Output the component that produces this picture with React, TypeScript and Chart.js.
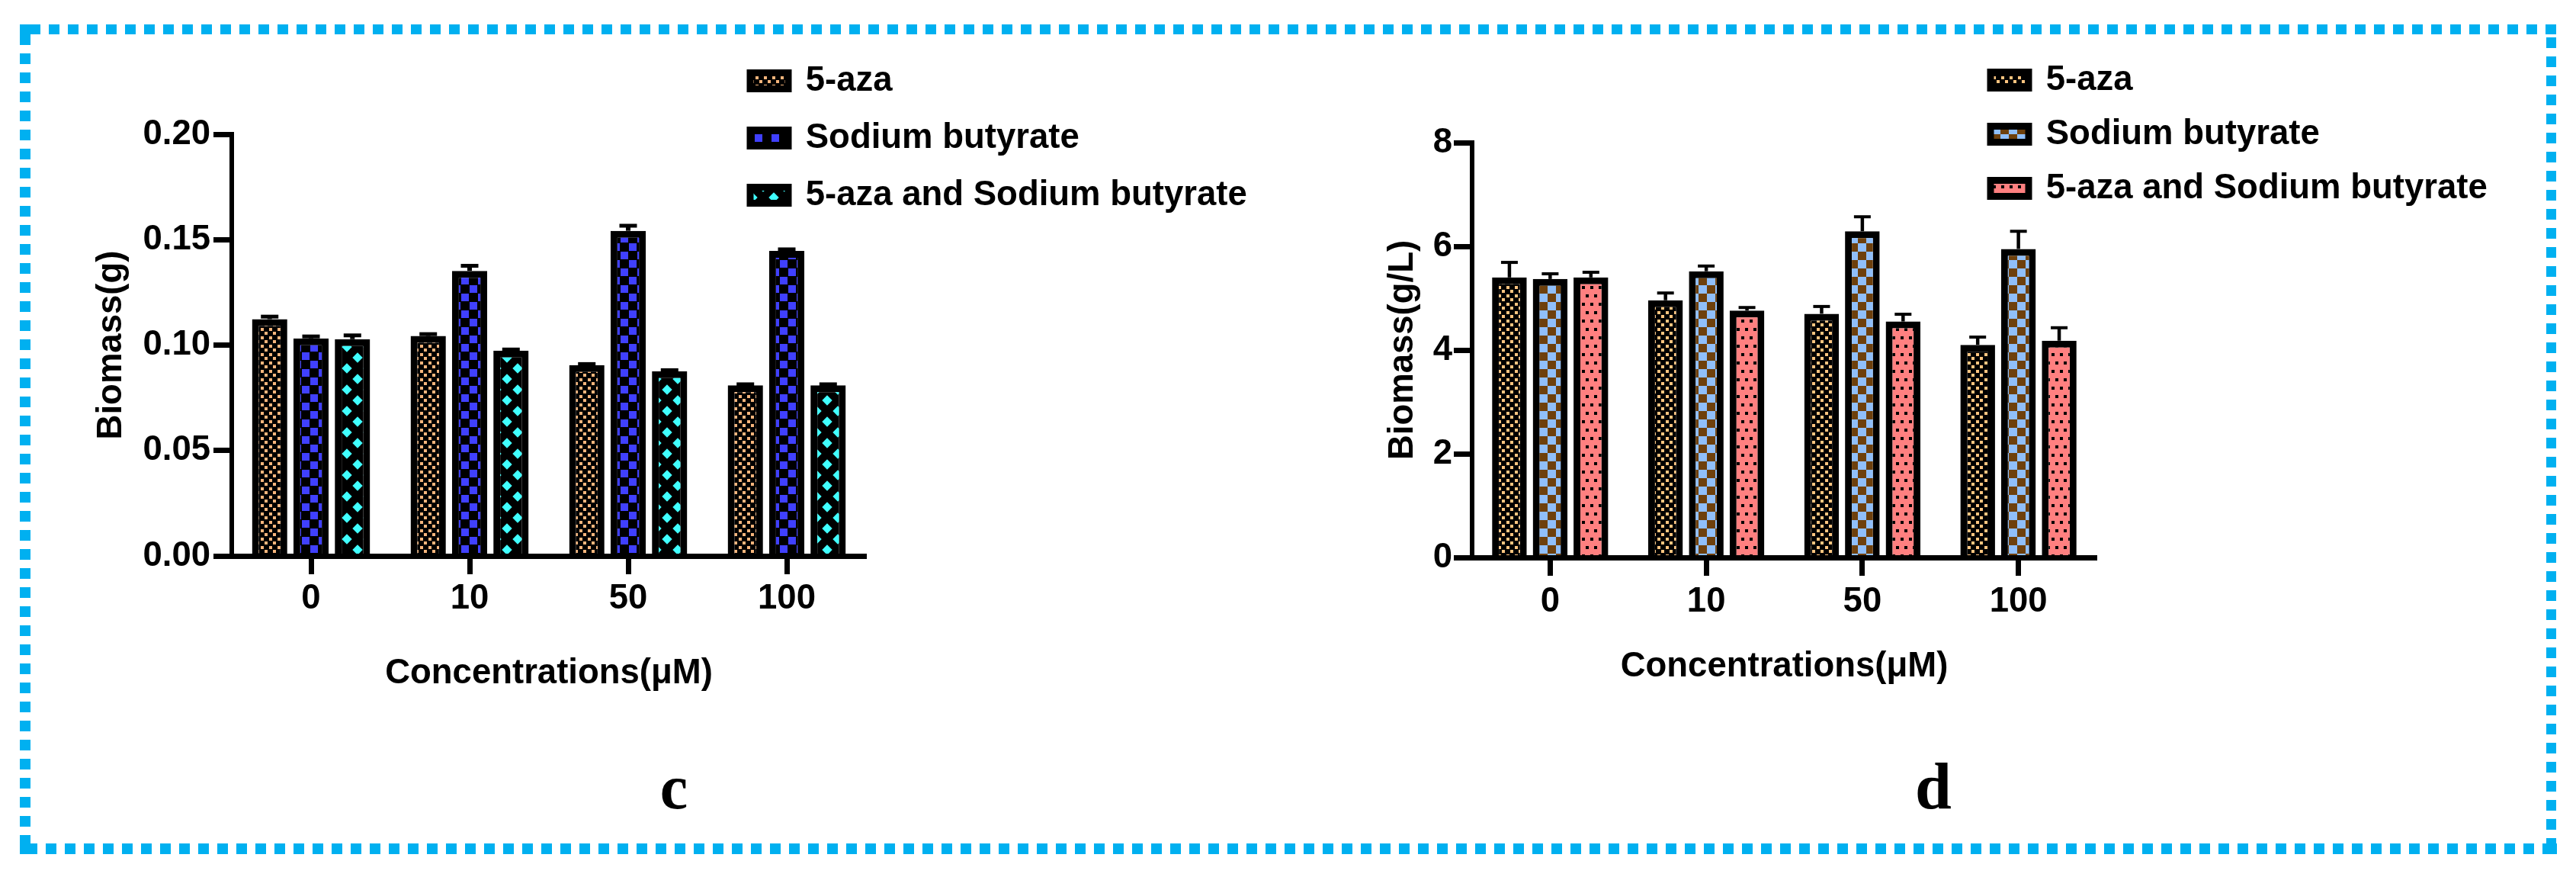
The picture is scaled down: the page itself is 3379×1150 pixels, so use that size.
import React, { useEffect, useRef } from 'react';
import { Chart, registerables } from 'chart.js';

Chart.register(...registerables);

// ---------- data ----------
const categories = ['0', '10', '50', '100'];
const seriesLabels = ['5-aza', 'Sodium butyrate', '5-aza and Sodium butyrate'];

// Panel c : Biomass (g)
const azaC = [0.1123, 0.1043, 0.0905, 0.0809];
const butyrateC = [0.1032, 0.1352, 0.1542, 0.1447];
const comboC = [0.1028, 0.0974, 0.0876, 0.0809];
const azaCErr = [0.0012, 0.0009, 0.0005, 0.0005];
const butyrateCErr = [0.0009, 0.0024, 0.0024, 0.0007];
const comboCErr = [0.0018, 0.0005, 0.0005, 0.0005];
const yTicksC = [0, 0.05, 0.1, 0.15, 0.2];

// Panel d : Biomass (g/L)
const azaD = [5.4, 4.96, 4.7, 4.1];
const butyrateD = [5.37, 5.52, 6.29, 5.95];
const comboD = [5.4, 4.76, 4.55, 4.18];
const azaDErr = [0.29, 0.14, 0.14, 0.15];
const butyrateDErr = [0.1, 0.1, 0.28, 0.34];
const comboDErr = [0.1, 0.06, 0.14, 0.25];
const yTicksD = [0, 2, 4, 6, 8];

const xTitle = 'Concentrations(μM)';
const yTitleC = 'Biomass(g)';
const yTitleD = 'Biomass(g/L)';

// ---------- styling ----------
const FONT = "'Liberation Sans', Arial, Helvetica, sans-serif";
const font = { family: FONT, size: 45.5, weight: 'bold' as const };

function tile(w: number, h: number, paint: (g: CanvasRenderingContext2D) => void) {
  const c = document.createElement('canvas');
  c.width = w;
  c.height = h;
  const g = c.getContext('2d')!;
  paint(g);
  return c;
}

function dotPattern(ctx: CanvasRenderingContext2D, fg: string) {
  return ctx.createPattern(
    tile(11, 11, (g) => {
      g.fillStyle = '#000';
      g.fillRect(0, 0, 11, 11);
      g.fillStyle = fg;
      g.fillRect(1, 1, 4, 4);
      g.fillRect(6, 6, 4, 4);
    }),
    'repeat'
  )!;
}

function checkPattern(ctx: CanvasRenderingContext2D, fg: string, bg: string, s: number) {
  return ctx.createPattern(
    tile(22, 22, (g) => {
      g.fillStyle = bg;
      g.fillRect(0, 0, 22, 22);
      g.fillStyle = fg;
      g.fillRect(0, 0, s, s);
      g.fillRect(11, 11, s, s);
    }),
    'repeat'
  )!;
}

function diamondPattern(ctx: CanvasRenderingContext2D, fg: string) {
  return ctx.createPattern(
    tile(28, 28, (g) => {
      g.fillStyle = '#000';
      g.fillRect(0, 0, 28, 28);
      g.fillStyle = fg;
      const r = 6.7;
      for (const [cx, cy] of [[7, 7], [21, 21]]) {
        g.beginPath();
        g.moveTo(cx, cy - r);
        g.lineTo(cx + r, cy);
        g.lineTo(cx, cy + r);
        g.lineTo(cx - r, cy);
        g.closePath();
        g.fill();
      }
    }),
    'repeat'
  )!;
}

function spotPattern(ctx: CanvasRenderingContext2D, bg: string) {
  return ctx.createPattern(
    tile(11, 22, (g) => {
      g.fillStyle = bg;
      g.fillRect(0, 0, 11, 22);
      g.fillStyle = '#000';
      g.fillRect(1, 1, 4, 4);
      g.fillRect(6, 12, 4, 4);
    }),
    'repeat'
  )!;
}

// error bars drawn from each dataset's errors through the y scale
const errorBarsPlugin = {
  id: 'errorBars',
  afterDatasetsDraw(chart: any, _args: any, opts: any) {
    const { ctx } = chart;
    const y = chart.scales.y;
    chart.data.datasets.forEach((ds: any, i: number) => {
      const meta = chart.getDatasetMeta(i);
      if (!ds.errors) return;
      meta.data.forEach((bar: any, j: number) => {
        const top = y.getPixelForValue(ds.data[j] + ds.errors[j]);
        ctx.save();
        ctx.strokeStyle = '#000';
        ctx.lineCap = 'butt';
        ctx.lineWidth = opts.stem;
        ctx.beginPath();
        ctx.moveTo(bar.x, bar.y);
        ctx.lineTo(bar.x, top);
        ctx.stroke();
        ctx.lineWidth = opts.cap;
        ctx.beginPath();
        ctx.moveTo(bar.x - opts.capW / 2, top);
        ctx.lineTo(bar.x + opts.capW / 2, top);
        ctx.stroke();
        ctx.restore();
      });
    });
  },
};

// places the Chart.js legend at a fixed spot (top-right of each panel)
const legendPlacePlugin = {
  id: 'legendPlace',
  afterLayout(chart: any, _args: any, opts: any) {
    const lg = chart.legend;
    if (!lg) return;
    lg.left = opts.left;
    lg.top = opts.top;
    lg.width = 1000;
    lg.height = 400;
    lg.right = opts.left + 1000;
    lg.bottom = opts.top + 400;
  },
};

interface PanelSpec {
  series: { data: number[]; err: number[]; fill: any }[];
  yTicks: number[];
  yTitle: string;
  fmt: (v: number) => string;
  padding: { left: number; right: number; top: number; bottom: number };
  yWidth: number;
  xHeight: number;
  yTitlePad: number;
  yTickPad: number;
  xTickPad: number;
  legendLeft: number;
  legendTop: number;
  legendPad: number;
  err: { stem: number; cap: number; capW: number };
}

function makeConfig(p: PanelSpec): any {
  return {
    type: 'bar',
    data: {
      labels: categories,
      datasets: p.series.map((s, i) => ({
        label: seriesLabels[i],
        data: s.data,
        errors: s.err,
        backgroundColor: s.fill,
        borderColor: '#000',
        borderWidth: 9,
        borderSkipped: 'start',
        barPercentage: 0.852,
        categoryPercentage: 0.783,
      })),
    },
    options: {
      animation: false,
      responsive: false,
      maintainAspectRatio: false,
      events: [],
      layout: { padding: p.padding },
      plugins: {
        legend: {
          display: true,
          position: 'chartArea',
          align: 'start',
          labels: {
            boxWidth: 50,
            boxHeight: 21,
            padding: p.legendPad,
            color: '#000',
            font,
          },
        },
        tooltip: { enabled: false },
        legendPlace: { left: p.legendLeft, top: p.legendTop },
        errorBars: p.err,
      },
      scales: {
        x: {
          type: 'category',
          offset: true,
          grid: {
            offset: false,
            drawOnChartArea: false,
            drawTicks: true,
            tickLength: 24,
            tickWidth: 7,
            tickColor: '#000',
            color: '#000',
          },
          border: { display: true, color: '#000', width: 7, z: 1 },
          ticks: { color: '#000', padding: p.xTickPad, font, maxRotation: 0, autoSkip: false },
          title: { display: true, text: xTitle, color: '#000', font, padding: { top: 0, bottom: 0 } },
          afterFit: (s: any) => {
            s.height = p.xHeight;
          },
        },
        y: {
          min: p.yTicks[0],
          max: p.yTicks[p.yTicks.length - 1],
          grid: {
            drawOnChartArea: false,
            drawTicks: true,
            tickLength: 24,
            tickWidth: 7,
            tickColor: '#000',
            color: '#000',
          },
          border: { display: true, color: '#000', width: 6 },
          ticks: {
            stepSize: p.yTicks[1] - p.yTicks[0],
            color: '#000',
            padding: p.yTickPad,
            font,
            callback: (v: any) => p.fmt(Number(v)),
          },
          title: { display: true, text: p.yTitle, color: '#000', font, padding: { top: p.yTitlePad, bottom: 0 } },
          afterFit: (s: any) => {
            s.width = p.yWidth;
          },
        },
      },
    },
    plugins: [errorBarsPlugin, legendPlacePlugin],
  };
}

export default function App() {
  const refC = useRef<HTMLCanvasElement>(null);
  const refD = useRef<HTMLCanvasElement>(null);

  useEffect(() => {
    const charts: Chart[] = [];
    if (refC.current) {
      const ctx = refC.current.getContext('2d')!;
      charts.push(
        new Chart(
          ctx,
          makeConfig({
            series: [
              { data: azaC, err: azaCErr, fill: dotPattern(ctx, '#F5B57C') },
              { data: butyrateC, err: butyrateCErr, fill: checkPattern(ctx, '#4040FF', '#000', 10) },
              { data: comboC, err: comboCErr, fill: diamondPattern(ctx, '#40FFFF') },
            ],
            yTicks: yTicksC,
            yTitle: yTitleC,
            fmt: (v) => v.toFixed(2),
            padding: { left: 104, right: 564, top: 176, bottom: 239 },
            yWidth: 200,
            xHeight: 182,
            yTitlePad: 15,
            yTickPad: 4,
            xTickPad: 5,
            legendLeft: 954.5,
            legendTop: 53.75,
            legendPad: 29.5,
            err: { stem: 6, cap: 5, capW: 23 },
          })
        )
      );
    }
    if (refD.current) {
      const ctx = refD.current.getContext('2d')!;
      charts.push(
        new Chart(
          ctx,
          makeConfig({
            series: [
              { data: azaD, err: azaDErr, fill: dotPattern(ctx, '#FFC580') },
              { data: butyrateD, err: butyrateDErr, fill: checkPattern(ctx, '#90BFFA', '#6E400C', 11) },
              { data: comboD, err: comboDErr, fill: spotPattern(ctx, '#FF8080') },
            ],
            yTicks: yTicksD,
            yTitle: yTitleD,
            fmt: (v) => String(v),
            padding: { left: 101, right: 629, top: 187, bottom: 248 },
            yWidth: 130,
            xHeight: 171,
            yTitlePad: 12,
            yTickPad: 2,
            xTickPad: 7,
            legendLeft: 885.5,
            legendTop: 56.75,
            legendPad: 25.5,
            err: { stem: 4.5, cap: 4, capW: 22 },
          })
        )
      );
    }
    return () => charts.forEach((c) => c.destroy());
  }, []);

  const frame = '#00B0F0';
  const dash = '14 11';
  return (
    <div style={{ position: 'absolute', left: 0, top: 0, width: 3379, height: 1150, background: '#fff', overflow: 'hidden' }}>
      <svg width={3379} height={1150} style={{ position: 'absolute', left: 0, top: 0 }}>
        <line x1={26} y1={38.5} x2={3353} y2={38.5} stroke={frame} strokeWidth={13} strokeDasharray={dash} strokeDashoffset={12} />
        <line x1={3346.5} y1={32} x2={3346.5} y2={1120} stroke={frame} strokeWidth={13} strokeDasharray={dash} strokeDashoffset={8} />
        <line x1={26} y1={1113} x2={3354} y2={1113} stroke={frame} strokeWidth={14} strokeDasharray={dash} strokeDashoffset={16} />
        <line x1={33} y1={32} x2={33} y2={1120} stroke={frame} strokeWidth={14} strokeDasharray={dash} strokeDashoffset={12} />
        <rect x={26} y={32} width={27} height={13} fill={frame} />
        <rect x={26} y={32} width={14} height={26} fill={frame} />
        <rect x={3340} y={32} width={13} height={13} fill={frame} />
        <rect x={26} y={1106} width={14} height={14} fill={frame} />
        <rect x={3335} y={1106} width={19} height={14} fill={frame} />
        <text x={884} y={1060} textAnchor="middle" fontFamily="'Liberation Serif', 'Times New Roman', serif" fontWeight="bold" fontSize={82} fill="#000">c</text>
        <text x={2536} y={1060} textAnchor="middle" fontFamily="'Liberation Serif', 'Times New Roman', serif" fontWeight="bold" fontSize={86} fill="#000">d</text>
      </svg>
      <canvas ref={refC} width={1700} height={1150} style={{ position: 'absolute', left: 0, top: 0, width: 1700, height: 1150 }} />
      <canvas ref={refD} width={1679} height={1150} style={{ position: 'absolute', left: 1700, top: 0, width: 1679, height: 1150 }} />
    </div>
  );
}
